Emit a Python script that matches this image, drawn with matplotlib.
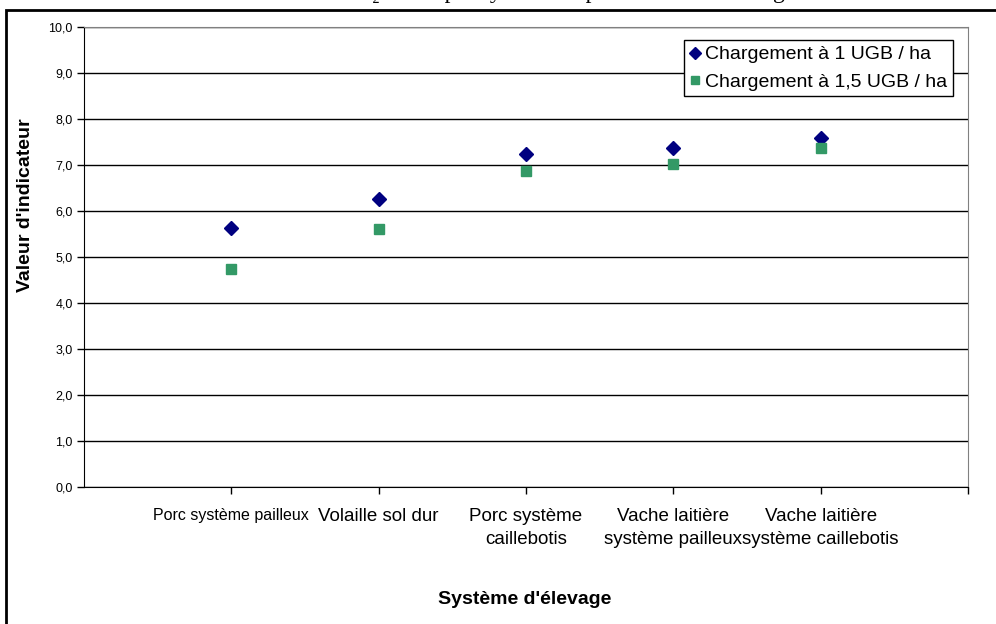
import matplotlib
matplotlib.use("Agg")
import matplotlib.pyplot as plt
from matplotlib.patches import Rectangle
from matplotlib.transforms import ScaledTranslation

# data
systemes = ["Porc système pailleux", "Volaille sol dur", "Porc système\ncaillebotis",
            "Vache laitière\nsystème pailleux", "Vache laitière\nsystème caillebotis"]
charge_1 = [5.64, 6.27, 7.24, 7.36, 7.59]
charge_15 = [4.73, 5.60, 6.88, 7.02, 7.37]
serie_labels = ["Chargement à 1 UGB / ha", "Chargement à 1,5 UGB / ha"]
titre = "Indicateur N₂ : note par système et pour le taux de chargement"

plt.rcParams['font.family'] = ['Liberation Sans', 'DejaVu Sans']

fig = plt.figure(figsize=(9.96, 6.24), dpi=100)
W, H = 996, 624
ax = fig.add_axes([84 / W, 1 - 487 / H, (968 - 84) / W, (487 - 27) / H])

x = list(range(1, len(systemes) + 1))
ax.plot(x, charge_1, linestyle='None', marker='D', markersize=7.5,
        color='#000080', label=serie_labels[0], zorder=3)
ax.plot(x, charge_15, linestyle='None', marker='s', markersize=7.5,
        color='#339966', label=serie_labels[1], zorder=3)

ax.set_xlim(0, 6)
ax.set_ylim(0, 10)
ax.set_yticks([i for i in range(11)])
ax.set_yticklabels([f"{i},0" for i in range(11)], fontsize=9)
ax.set_xticks([1, 2, 3, 4, 5, 6])
ax.set_xticklabels(systemes + [""], fontsize=13.5, linespacing=1.45)
labels = ax.get_xticklabels()
labels[0].set_fontsize(11.5)
# Excel nudges the crowded labels a bit to the right
for lab, dx in zip(labels, [0, 6, 1, 6, 15]):
    lab.set_transform(lab.get_transform() + ScaledTranslation(dx / 100, 0, fig.dpi_scale_trans))
ax.tick_params(axis='both', direction='out', length=5, width=1, color='black')
ax.tick_params(axis='x', pad=10)
ax.tick_params(axis='y', pad=3)

ax.yaxis.grid(True, color='black', linewidth=1)
ax.set_axisbelow(True)
for s in ['top', 'right']:
    ax.spines[s].set_color('#808080')
for s in ['left', 'bottom']:
    ax.spines[s].set_color('black')

ax.set_ylabel("Valeur d'indicateur", fontsize=14, fontweight='bold')
ax.yaxis.set_label_coords(-0.056, 0.613)
ax.set_xlabel("Système d'élevage", fontsize=14, fontweight='bold')
ax.xaxis.set_label_coords(0.499, -0.226)

leg = ax.legend(loc='upper right', bbox_to_anchor=(0.9835, 0.972), borderaxespad=0,
                fontsize=14, frameon=True, fancybox=False, handlelength=0.5,
                handletextpad=0.3, borderpad=0.3, labelspacing=0.5, markerscale=0.85)
leg.get_frame().set_edgecolor('black')
leg.get_frame().set_linewidth(1)
leg.get_frame().set_alpha(1)

# outer chart border (cut off on the right and bottom)
fig.add_artist(Rectangle((6 / W, -0.2), 2, (H - 10) / H + 0.2, fill=False,
                         edgecolor='black', linewidth=2, transform=fig.transFigure,
                         clip_on=False))

# title, mostly outside the picture
fig.text(548 / W, 1 + 2 / H, titre, ha='center', va='baseline', fontsize=17,
         family=['Liberation Serif', 'DejaVu Serif'])

fig.savefig("out.png", dpi=100)
